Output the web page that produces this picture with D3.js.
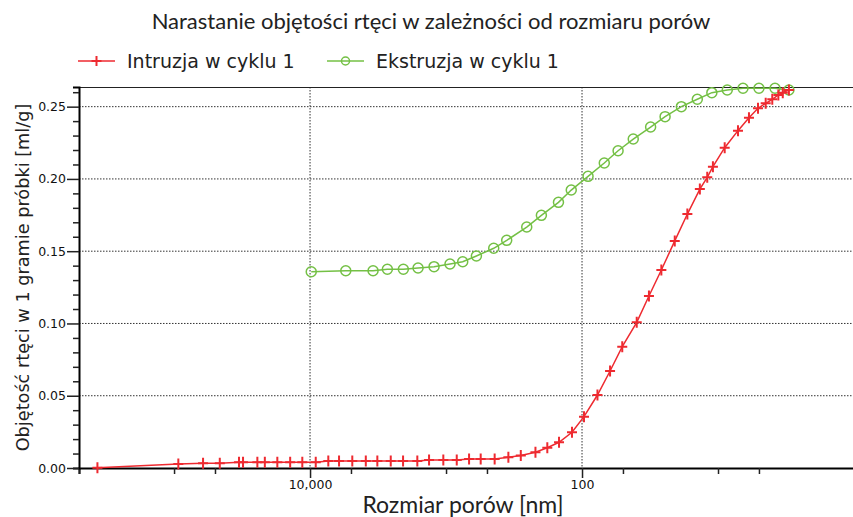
<!DOCTYPE html>
<html>
<head>
<meta charset="utf-8">
<script src="https://cdn.jsdelivr.net/npm/d3@7"></script>
<style>
  body { margin: 0; background: #fff; }
  svg { display: block; }
</style>
</head>
<body>
<div id="chart"></div>
<script>
// pore size [nm] and volume [ml/g]
var intrusionSize = [366000, 93000, 61200, 46100, 33300, 31100, 24400, 21500, 17400, 14000,
  11400, 9080, 7340, 6120, 4890, 3890, 3200, 2550, 2070, 1626,
  1333, 1047, 834, 677, 556, 439, 348, 282, 220, 180,
  147.6, 118.5, 96.7, 77.0, 62.2, 50.6, 39.6, 32.2, 26.1, 20.8,
  16.8, 13.6, 12.0, 10.9, 8.93, 7.13, 5.92, 5.08, 4.46, 3.99,
  3.60, 3.34, 3.01];
var intrusionVol = [0.0002, 0.0028, 0.0033, 0.0033, 0.0039, 0.0039, 0.0039, 0.0039, 0.0039, 0.0039,
  0.0039, 0.0039, 0.0048, 0.0048, 0.0048, 0.0048, 0.0048, 0.0048, 0.0048, 0.0048,
  0.0055, 0.0055, 0.0055, 0.0062, 0.0062, 0.0062, 0.0074, 0.0086, 0.0109, 0.0140,
  0.0178, 0.0247, 0.0355, 0.0505, 0.0671, 0.0839, 0.1008, 0.1190, 0.1370, 0.1571,
  0.1757, 0.1930, 0.2011, 0.2085, 0.2216, 0.2334, 0.2424, 0.2489, 0.2523, 0.2551,
  0.2581, 0.2597, 0.2615];

var extrusionSize = [9800, 5460, 3440, 2700, 2060, 1606, 1225, 935, 754, 598,
  446, 358, 255, 199, 149, 120, 90.3, 68.6, 54.3, 42.0,
  31.3, 24.5, 18.6, 14.2, 11.1, 8.55, 6.55, 5.0, 3.81, 3.01];
var extrusionVol = [0.1358, 0.1365, 0.1365, 0.1375, 0.1375, 0.1384, 0.1393, 0.1411, 0.1427, 0.1467,
  0.1520, 0.1575, 0.1667, 0.1748, 0.1838, 0.1923, 0.2018, 0.2110, 0.2195, 0.2276,
  0.2359, 0.2431, 0.2500, 0.2551, 0.2597, 0.2615, 0.2627, 0.2627, 0.2627, 0.2615];

var xMajorTicks = [10000, 100];
var xMinorTicks = [500000, 100000, 50000, 5000, 1000, 500, 50, 10, 5];
var yMajorTicks = [0, 0.05, 0.10, 0.15, 0.20, 0.25];
var yMinorTicks = [0.01, 0.02, 0.03, 0.04, 0.06, 0.07, 0.08, 0.09, 0.11, 0.12, 0.13, 0.14,
  0.16, 0.17, 0.18, 0.19, 0.21, 0.22, 0.23, 0.24, 0.26];

var seriesNames = ["Intruzja w cyklu 1", "Ekstruzja w cyklu 1"];
var red = "#ee2a30", green = "#74c045";
var titleFont = "Lato, 'Open Sans', sans-serif";
var bodyFont = "'DejaVu Sans', Verdana, sans-serif";

var W = 853, H = 517;
var margin = {top: 87, right: 0, bottom: 49, left: 79};
var width = 854 - margin.left;
var height = H - margin.top - margin.bottom;

var svg = d3.select("#chart").append("svg")
    .attr("width", W)
    .attr("height", H)
    .style("font-family", bodyFont);

var g = svg.append("g")
    .attr("transform", "translate(" + margin.left + "," + margin.top + ")");

var x = d3.scaleLog()
    .domain([500000, 1])
    .range([0, width]);

var y = d3.scaleLinear()
    .domain([0, 0.2636])
    .range([height, 0]);

// grid
g.selectAll(".hgrid")
  .data(yMajorTicks.slice(1))
  .enter()
  .append("line")
    .attr("x1", 0).attr("x2", width)
    .attr("y1", function(d) { return y(d); })
    .attr("y2", function(d) { return y(d); })
    .attr("stroke", "#333")
    .attr("stroke-width", 1)
    .attr("stroke-dasharray", "1.5,1.5");

g.selectAll(".vgrid")
  .data(xMajorTicks)
  .enter()
  .append("line")
    .attr("x1", function(d) { return x(d); })
    .attr("x2", function(d) { return x(d); })
    .attr("y1", 0).attr("y2", height)
    .attr("stroke", "#333")
    .attr("stroke-width", 1)
    .attr("stroke-dasharray", "1.5,1.5");

// top frame
g.append("line")
  .attr("x1", 0).attr("x2", width)
  .attr("y1", 0.5).attr("y2", 0.5)
  .attr("stroke", "#222");

// X axis
var xAxisMajor = d3.axisBottom(x)
    .tickValues(xMajorTicks)
    .tickSize(10)
    .tickFormat(d3.format(","));
var xAxisMinor = d3.axisBottom(x)
    .tickValues(xMinorTicks)
    .tickSize(6)
    .tickFormat("");

g.append("g")
    .attr("transform", "translate(0," + height + ")")
    .call(xAxisMinor)
    .call(function(s) { s.select(".domain").attr("stroke-width", 2); });
var xa = g.append("g")
    .attr("transform", "translate(0," + height + ")")
    .call(xAxisMajor);
xa.select(".domain").remove();
xa.selectAll("text")
    .attr("dy", "0.6em")
    .style("font-family", bodyFont)
    .style("font-size", "12.5px")
    .attr("fill", "#111");

// Y axis
var yAxisMajor = d3.axisLeft(y)
    .tickValues(yMajorTicks)
    .tickSize(12)
    .tickPadding(1)
    .tickFormat(d3.format(".2f"));
var yAxisMinor = d3.axisLeft(y)
    .tickValues(yMinorTicks)
    .tickSize(6)
    .tickFormat("");

g.append("g")
    .call(yAxisMinor)
    .call(function(s) { s.select(".domain").attr("stroke-width", 2); });
var ya = g.append("g")
    .call(yAxisMajor);
ya.select(".domain").remove();
ya.selectAll("text")
    .style("font-family", bodyFont)
    .style("font-size", "12.5px")
    .attr("fill", "#111");

svg.selectAll(".tick line").attr("stroke", "#222").attr("stroke-width", 1.5);

// data
var intrusion = intrusionSize.map(function(d, i) { return {x: d, y: intrusionVol[i]}; });
var extrusion = extrusionSize.map(function(d, i) { return {x: d, y: extrusionVol[i]}; });

var line = d3.line()
    .x(function(d) { return x(d.x); })
    .y(function(d) { return y(d.y); });

g.append("path")
  .datum(extrusion)
  .attr("d", line)
  .attr("fill", "none")
  .attr("stroke", green)
  .attr("stroke-width", 1.5);

g.selectAll(".ext")
  .data(extrusion)
  .enter()
  .append("circle")
    .attr("cx", function(d) { return x(d.x); })
    .attr("cy", function(d) { return y(d.y); })
    .attr("r", 5)
    .attr("fill", "none")
    .attr("stroke", green)
    .attr("stroke-width", 1.5);

g.append("path")
  .datum(intrusion)
  .attr("d", line)
  .attr("fill", "none")
  .attr("stroke", red)
  .attr("stroke-width", 1.5);

g.selectAll(".int")
  .data(intrusion)
  .enter()
  .append("path")
    .attr("transform", function(d) { return "translate(" + x(d.x) + "," + y(d.y) + ")"; })
    .attr("d", "M-5,0H5M0,-5.5V5.5")
    .attr("stroke", red)
    .attr("stroke-width", 2);

// title and axis labels
svg.append("text")
  .attr("x", 431).attr("y", 29)
  .attr("text-anchor", "middle")
  .style("font-family", titleFont)
  .style("font-size", "22px")
  .attr("fill", "#222")
  .text("Narastanie objętości rtęci w zależności od rozmiaru porów");

svg.append("text")
  .attr("x", 463).attr("y", 513)
  .attr("text-anchor", "middle")
  .style("font-family", titleFont)
  .style("font-size", "23px")
  .attr("fill", "#222")
  .text("Rozmiar porów [nm]");

svg.append("text")
  .attr("transform", "translate(29," + (margin.top + height / 2) + ") rotate(-90)")
  .attr("text-anchor", "middle")
  .style("font-size", "17.7px")
  .attr("fill", "#222")
  .text("Objętość rtęci w 1 gramie próbki [ml/g]");

// legend
var legX = [78, 327];
var leg = svg.selectAll(".leg")
  .data(seriesNames)
  .enter()
  .append("g")
    .attr("transform", function(d, i) { return "translate(" + legX[i] + ",61)"; });

leg.append("line")
  .attr("x1", 0).attr("x2", 37)
  .attr("stroke", function(d, i) { return i == 0 ? red : green; })
  .attr("stroke-width", 1.5);

leg.filter(function(d, i) { return i == 0; })
  .append("path")
    .attr("d", "M13.5,0H23.5M18.5,-5V5")
    .attr("stroke", red)
    .attr("stroke-width", 2);

leg.filter(function(d, i) { return i == 1; })
  .append("circle")
    .attr("cx", 18.5).attr("r", 4)
    .attr("fill", "none")
    .attr("stroke", green)
    .attr("stroke-width", 1.5);

leg.append("text")
  .attr("x", 49).attr("dy", "0.35em")
  .style("font-size", "19px")
  .attr("fill", "#222")
  .text(function(d) { return d; });
</script>
</body>
</html>
